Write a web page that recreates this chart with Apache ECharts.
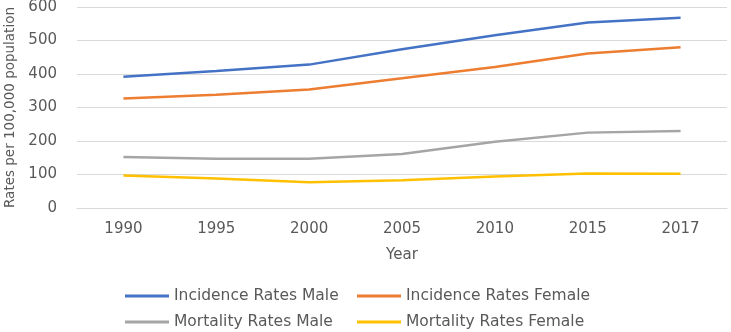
<!DOCTYPE html>
<html>
<head>
<meta charset="utf-8">
<script src="https://cdn.jsdelivr.net/npm/echarts@6/dist/echarts.min.js"></script>
<style>html,body{margin:0;padding:0;background:#fff}#c{width:731px;height:332px}</style>
</head>
<body>
<div id="c"></div>
<script>
const years = ['1990', '1995', '2000', '2005', '2010', '2015', '2017'];
const incidenceMale = [392, 409, 428, 474, 516, 554, 568];
const incidenceFemale = [327, 338, 354, 387, 421, 461, 480];
const mortalityMale = [152, 147, 147, 161, 198, 225, 230];
const mortalityFemale = [97, 88, 77, 83, 94, 103, 102];
const seriesNames = ['Incidence Rates Male', 'Incidence Rates Female', 'Mortality Rates Male', 'Mortality Rates Female'];
const colors = ['#4472C4', '#ED7D31', '#A5A5A5', '#FFC000'];
const yTicks = { min: 0, max: 600, interval: 100 };

const font = 'DejaVu Sans';
const txt = '#595959';
const chart = echarts.init(document.getElementById('c'));
const datas = [incidenceMale, incidenceFemale, mortalityMale, mortalityFemale];
const legendPos = [[125, 288], [357, 288], [125, 314], [357, 314]];
chart.setOption({
  animation: false,
  grid: { left: 77, right: 4, top: 7, bottom: 124, containLabel: false, outerBoundsMode: 'none' },
  xAxis: {
    type: 'category', data: years, boundaryGap: true,
    name: 'Year', nameLocation: 'middle', nameGap: 40,
    nameTextStyle: { color: txt, fontFamily: font, fontSize: 15 },
    axisLine: { show: true, lineStyle: { color: '#d9d9d9' } },
    axisTick: { show: false },
    axisLabel: { color: txt, fontFamily: font, fontSize: 15, margin: 14 }
  },
  yAxis: {
    type: 'value', min: yTicks.min, max: yTicks.max, interval: yTicks.interval,
    name: 'Rates per 100,000 population', nameLocation: 'middle', nameGap: 53,
    nameTextStyle: { color: txt, fontFamily: font, fontSize: 13.5 },
    axisLine: { show: false }, axisTick: { show: false },
    splitLine: { lineStyle: { color: '#d9d9d9', width: 1 } },
    axisLabel: { color: txt, fontFamily: font, fontSize: 15, margin: 20 }
  },
  legend: seriesNames.map((n, i) => ({
    data: [n], left: legendPos[i][0], top: legendPos[i][1], padding: 0,
    icon: 'rect', itemWidth: 44, itemHeight: 3,
    textStyle: { color: txt, fontFamily: font, fontSize: 15.5 }
  })),
  series: seriesNames.map((n, i) => ({
    name: n, type: 'line', data: datas[i], color: colors[i],
    symbol: 'none', lineStyle: { width: 2.5, color: colors[i] }
  }))
});
</script>
</body>
</html>
